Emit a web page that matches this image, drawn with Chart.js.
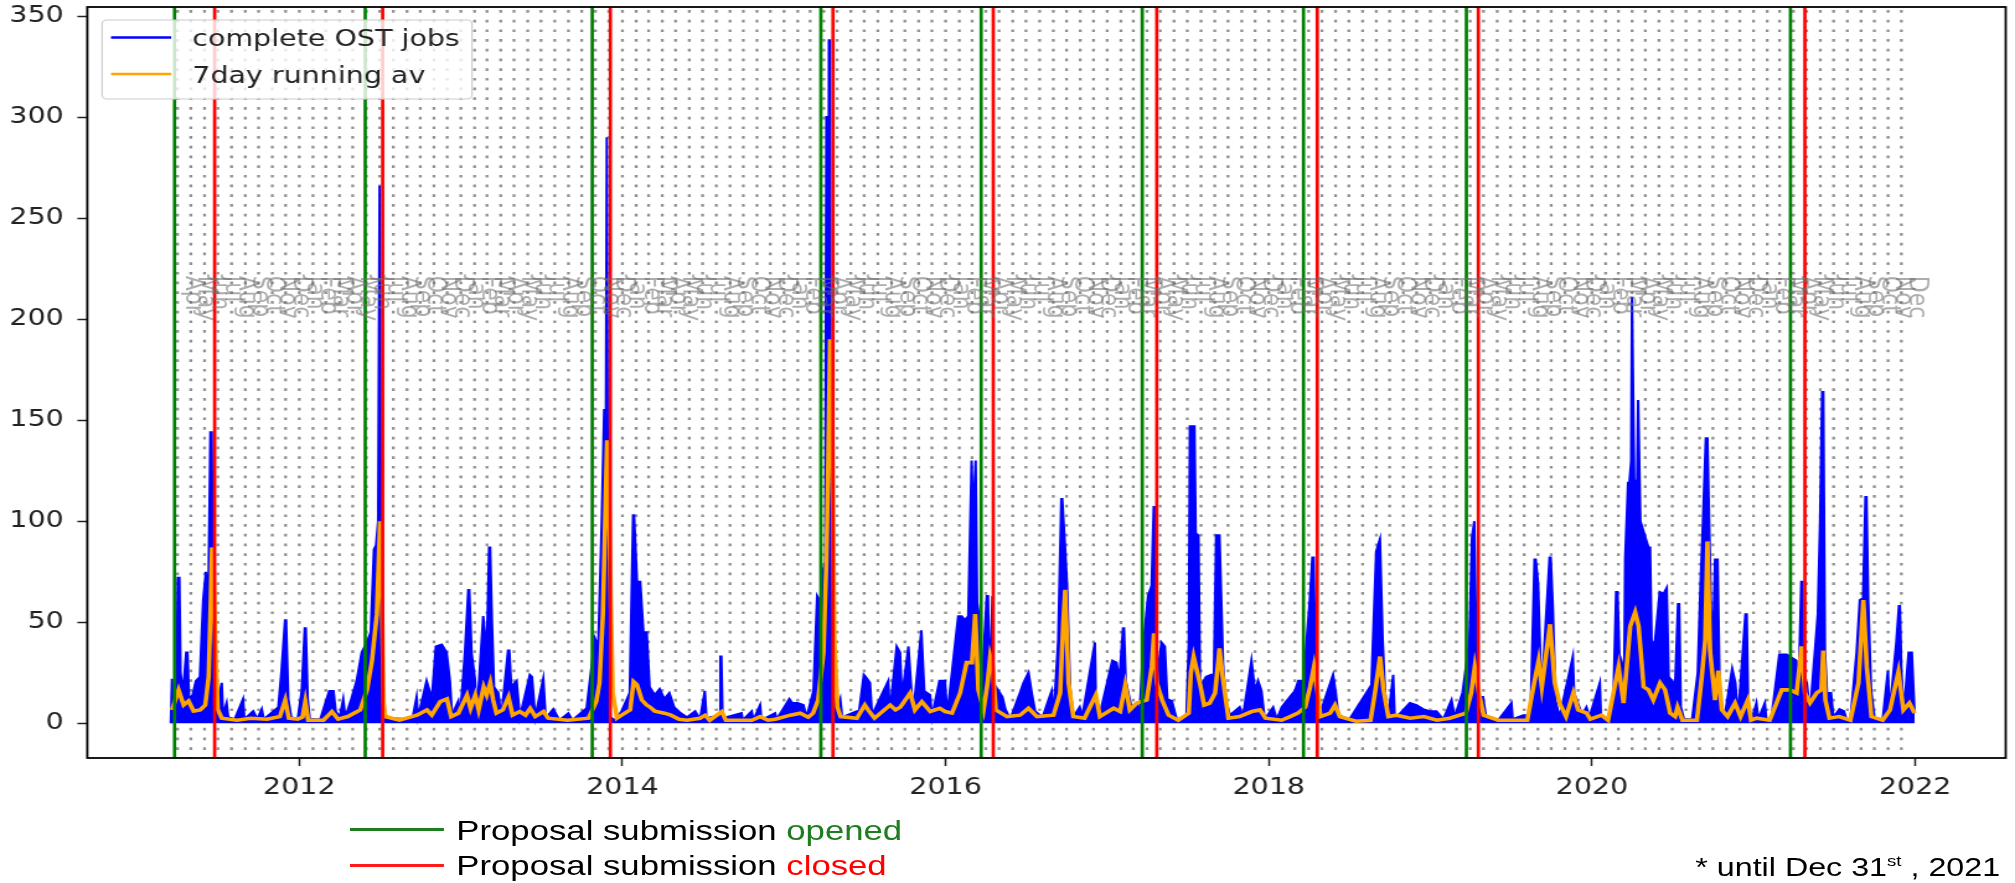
<!DOCTYPE html>
<html>
<head>
<meta charset="utf-8">
<script src="https://cdn.jsdelivr.net/npm/chart.js@4.4.1/dist/chart.umd.min.js"></script>
<style>
  html, body { margin: 0; padding: 0; background: #fff; }
  body { width: 2015px; height: 883px; overflow: hidden; }
  /* the original figure was stretched sideways, so the whole page is too */
  #wrap { position: relative; width: 1625px; height: 883px; transform: scaleX(1.24); transform-origin: 0 0; }
  #chart { position: absolute; left: 0; top: 0; }
  .key { position: absolute; left: 282px; width: 76px; height: 3px; }
  .keytext, .foot { position: absolute; font-family: "Liberation Sans", Arial, sans-serif; font-size: 28px; line-height: 28px; color: #000; white-space: nowrap; }
  .foot { font-size: 26px; }
  .sup { font-size: 15px; position: relative; top: -10px; }
</style>
</head>
<body>
<div id="wrap">
  <canvas id="chart" width="1625" height="883"></canvas>
  <div class="key" style="top:828px; background:#1e7d1e"></div>
  <div class="keytext" style="left:368px; top:817px">Proposal submission <span style="color:#1e7d1e">opened</span></div>
  <div class="key" style="top:864px; background:#ff1a1a"></div>
  <div class="keytext" style="left:368px; top:852px">Proposal submission <span style="color:#ff0000">closed</span></div>
  <div class="foot" style="right:12px; top:853px">* until Dec 31<span class="sup">st</span> , 2021</div>
</div>
<script>
// Proposal cycles (decimal years)
const openedAt = [2011.228, 2012.408, 2013.813, 2015.228, 2016.220, 2017.217, 2018.215, 2019.223, 2021.229];
const closedAt = [2011.476, 2012.516, 2013.925, 2015.303, 2016.295, 2017.307, 2018.300, 2019.297, 2021.318];

const yearTicks = [2012, 2014, 2016, 2018, 2020, 2022];
const countTicks = [0, 50, 100, 150, 200, 250, 300, 350];
const monthNames = ['Jan', 'Feb', 'Mar', 'Apr', 'May', 'Jun', 'Jul', 'Aug', 'Sep', 'Oct', 'Nov', 'Dec'];
const firstMonth = [2011, 3];   // Apr 2011
const lastMonth = [2021, 11];   // Dec 2021
const labelLevel = 221.5;       // where the month names start

// complete OST jobs per day (peaks), [year, jobs]
const jobs2011 = [[2011.205,0],[2011.212,22],[2011.222,10],[2011.240,12],[2011.248,72],[2011.258,72],[2011.265,25],[2011.280,15],[2011.300,35],[2011.308,35],[2011.318,12],[2011.340,14],[2011.360,21],[2011.385,23],[2011.405,61],[2011.422,75],[2011.437,61],[2011.450,144],[2011.458,144],[2011.466,60],[2011.480,21],[2011.500,12],[2011.520,20],[2011.528,4],[2011.550,10],[2011.560,3],[2011.600,2],[2011.652,12],[2011.660,2],[2011.715,6],[2011.740,2],[2011.768,7],[2011.780,2],[2011.870,8],[2011.890,26],[2011.912,51],[2011.918,51],[2011.932,12],[2011.950,3],[2011.990,2]];
const jobs2012 = [[2012.015,16],[2012.034,47],[2012.040,47],[2012.052,12],[2012.065,2],[2012.130,2],[2012.185,16],[2012.212,16],[2012.225,6],[2012.250,3],[2012.272,12],[2012.285,3],[2012.322,12],[2012.355,21],[2012.386,35],[2012.418,40],[2012.442,45],[2012.462,86],[2012.475,88],[2012.488,100],[2012.497,266],[2012.503,266],[2012.508,40],[2012.516,5],[2012.560,2.5],[2012.700,2],[2012.726,13],[2012.735,3],[2012.788,21],[2012.820,12],[2012.845,38],[2012.882,39],[2012.912,35],[2012.932,21],[2012.945,4],[2012.984,11],[2012.995,3]];
const jobs2013 = [[2013.025,35],[2013.046,66],[2013.052,66],[2013.066,35],[2013.087,22],[2013.100,5],[2013.138,53],[2013.160,35],[2013.175,87],[2013.181,87],[2013.192,51],[2013.205,18],[2013.232,15],[2013.250,3],[2013.292,36],[2013.300,36],[2013.312,18],[2013.345,21],[2013.365,3],[2013.427,24],[2013.440,23],[2013.460,3],[2013.510,22],[2013.525,2.5],[2013.572,7],[2013.610,1.5],[2013.665,5],[2013.690,1.5],[2013.778,7.5],[2013.830,42],[2013.850,38],[2013.872,100],[2013.887,155],[2013.898,155],[2013.903,290],[2013.907,290],[2013.912,30],[2013.925,3],[2013.955,1.5],[2013.995,6]];
const jobs2014 = [[2014.045,15],[2014.066,103],[2014.072,103],[2014.090,70],[2014.110,70],[2014.130,45],[2014.150,45],[2014.168,18],[2014.200,14],[2014.230,17],[2014.260,12],[2014.290,15],[2014.320,8],[2014.360,5],[2014.400,3],[2014.450,6],[2014.480,2],[2014.510,16],[2014.520,2.5],[2014.600,4],[2014.606,33],[2014.612,33],[2014.620,2.5],[2014.737,5],[2014.745,1.5],[2014.800,6],[2014.810,1.5],[2014.852,9],[2014.860,1.5],[2014.945,5],[2014.955,2]];
const jobs2015 = [[2015.033,12],[2015.050,10],[2015.084,10],[2015.120,9],[2015.140,3],[2015.182,16],[2015.205,63],[2015.225,60],[2015.243,76],[2015.255,80],[2015.262,300],[2015.268,300],[2015.274,120],[2015.278,338],[2015.284,338],[2015.290,60],[2015.300,20],[2015.320,5],[2015.348,12],[2015.360,3],[2015.450,6],[2015.460,3],[2015.494,24],[2015.505,23],[2015.532,20],[2015.545,4],[2015.645,21],[2015.655,5],[2015.697,38],[2015.718,35],[2015.730,13],[2015.770,38],[2015.785,20],[2015.800,5],[2015.850,46],[2015.857,46],[2015.868,16],[2015.904,14],[2015.915,3],[2015.962,21],[2015.996,21]];
const jobs2016 = [[2016.010,4],[2016.078,53],[2016.100,53],[2016.120,51],[2016.140,53],[2016.161,130],[2016.170,100],[2016.186,130],[2016.195,60],[2016.205,54],[2016.225,20],[2016.255,63],[2016.262,63],[2016.272,15],[2016.290,63],[2016.296,20],[2016.352,13],[2016.370,7],[2016.400,2],[2016.460,15],[2016.482,20],[2016.513,25],[2016.533,15],[2016.554,6],[2016.600,3],[2016.656,16],[2016.668,3],[2016.697,41],[2016.716,111],[2016.722,111],[2016.740,86],[2016.752,68],[2016.770,18],[2016.790,3],[2016.830,8],[2016.845,3],[2016.924,40],[2016.930,12],[2016.950,3]];
const jobs2017 = [[2017.032,31],[2017.058,30],[2017.075,21],[2017.098,47],[2017.104,47],[2017.115,21],[2017.150,8],[2017.182,10],[2017.200,4],[2017.223,38],[2017.253,63],[2017.275,68],[2017.288,107],[2017.294,107],[2017.305,20],[2017.336,40],[2017.357,38],[2017.372,12],[2017.400,11],[2017.430,2],[2017.490,3],[2017.505,40],[2017.512,147],[2017.540,147],[2017.548,94],[2017.565,93],[2017.575,18],[2017.612,23],[2017.645,24],[2017.660,20],[2017.674,93],[2017.695,93],[2017.718,28],[2017.735,11],[2017.760,4],[2017.820,8],[2017.840,3],[2017.893,31],[2017.915,16],[2017.934,21],[2017.955,16],[2017.975,2]];
const jobs2018 = [[2018.027,8],[2018.050,2],[2018.080,8],[2018.130,13],[2018.162,16],[2018.183,21],[2018.215,21],[2018.254,61],[2018.270,82],[2018.278,82],[2018.290,20],[2018.310,3],[2018.398,24],[2018.415,15],[2018.430,4],[2018.500,2],[2018.635,19],[2018.665,85],[2018.688,91],[2018.705,41],[2018.720,15],[2018.740,3],[2018.770,24],[2018.780,2],[2018.873,10],[2018.915,9],[2018.955,7],[2018.995,6]];
const jobs2019 = [[2019.038,6],[2019.080,2],[2019.131,11.5],[2019.150,3],[2019.199,15],[2019.242,41],[2019.258,92],[2019.272,100],[2019.280,60],[2019.295,13],[2019.326,13],[2019.345,3],[2019.420,1.5],[2019.502,10],[2019.510,2],[2019.575,4],[2019.620,4],[2019.645,81],[2019.652,81],[2019.667,69],[2019.688,13],[2019.715,51],[2019.738,82],[2019.745,82],[2019.758,58],[2019.775,11],[2019.800,3],[2019.882,33],[2019.890,15],[2019.940,4],[2019.966,8],[2019.985,3]];
const jobs2020 = [[2020.049,20],[2020.056,3],[2020.100,2],[2020.121,10],[2020.130,3],[2020.150,65],[2020.158,65],[2020.175,20],[2020.185,30],[2020.200,25],[2020.206,82],[2020.224,119],[2020.232,119],[2020.243,130],[2020.248,211],[2020.254,211],[2020.262,120],[2020.280,120],[2020.286,160],[2020.293,160],[2020.300,100],[2020.350,87],[2020.360,87],[2020.370,38],[2020.391,41],[2020.420,65],[2020.443,64],[2020.463,67],[2020.475,23],[2020.515,19],[2020.533,59],[2020.540,59],[2020.550,8],[2020.570,2],[2020.620,2],[2020.655,25],[2020.672,68],[2020.688,102],[2020.705,141],[2020.715,141],[2020.725,102],[2020.745,25],[2020.762,81],[2020.778,81],[2020.792,11.5],[2020.820,2.5],[2020.868,27],[2020.888,20],[2020.905,3],[2020.950,54],[2020.958,54],[2020.968,4],[2020.990,2]];
const jobs2021 = [[2021.018,10],[2021.030,2],[2021.070,10],[2021.080,2],[2021.110,2],[2021.160,34],[2021.205,34],[2021.225,33],[2021.265,31],[2021.280,20],[2021.296,70],[2021.302,70],[2021.312,20],[2021.330,20],[2021.350,5],[2021.398,54],[2021.412,99],[2021.425,164],[2021.432,164],[2021.442,36],[2021.455,15],[2021.480,15],[2021.495,3],[2021.532,7],[2021.560,6],[2021.575,2],[2021.600,2],[2021.638,35],[2021.658,61],[2021.678,62],[2021.693,112],[2021.699,112],[2021.710,61],[2021.728,16.5],[2021.750,2],[2021.800,2],[2021.832,26],[2021.842,5],[2021.884,40],[2021.900,58],[2021.906,58],[2021.916,25],[2021.930,5],[2021.960,35],[2021.980,35],[2021.997,5]];

// 7 day running average, [year, jobs]
const avg2011 = [[2011.212,6.6],[2011.253,16.5],[2011.284,9],[2011.315,11],[2011.346,6],[2011.387,6.6],[2011.418,9],[2011.439,23],[2011.452,60],[2011.460,87],[2011.470,75],[2011.480,40],[2011.495,7],[2011.520,2.5],[2011.614,1.5],[2011.700,2.5],[2011.800,2],[2011.880,3.3],[2011.913,11.5],[2011.935,2.5],[2011.990,2]];
const avg2012 = [[2012.020,3],[2012.037,10.7],[2012.055,1.5],[2012.150,1.5],[2012.202,5.8],[2012.240,2],[2012.300,3.3],[2012.377,6.6],[2012.419,16.5],[2012.450,31],[2012.480,54],[2012.500,100],[2012.512,60],[2012.522,10],[2012.532,3.3],[2012.620,1.5],[2012.728,4],[2012.790,6.6],[2012.820,4],[2012.872,10.7],[2012.914,12],[2012.940,3.3],[2012.985,5]];
const avg2013 = [[2013.038,14],[2013.060,7.4],[2013.089,14],[2013.110,6.6],[2013.141,18],[2013.160,14],[2013.182,20],[2013.200,11.5],[2013.220,5],[2013.260,6.6],[2013.295,13],[2013.320,4],[2013.365,5.8],[2013.400,4],[2013.429,7.4],[2013.460,3.3],[2013.512,5.8],[2013.540,2.5],[2013.660,1.5],[2013.790,2.5],[2013.838,10.7],[2013.858,20],[2013.879,54],[2013.893,100],[2013.905,140],[2013.915,120],[2013.928,60],[2013.940,15],[2013.966,2.5],[2013.995,4]];
const avg2014 = [[2014.048,6.6],[2014.069,20.6],[2014.090,19],[2014.120,11.5],[2014.150,9],[2014.170,8],[2014.200,6],[2014.260,5],[2014.300,4],[2014.350,2],[2014.400,1.5],[2014.480,2.5],[2014.512,4],[2014.540,1.5],[2014.615,5.8],[2014.640,1.5],[2014.800,1.5],[2014.853,3.3],[2014.900,1.5],[2014.946,2]];
const avg2015 = [[2015.039,4],[2015.100,5],[2015.150,3],[2015.180,5],[2015.211,11.5],[2015.244,35],[2015.262,80],[2015.272,120],[2015.285,190],[2015.298,150],[2015.312,40],[2015.330,8],[2015.350,3.3],[2015.451,2.5],[2015.500,9],[2015.520,6.6],[2015.560,2.5],[2015.657,9],[2015.690,6.6],[2015.720,8],[2015.781,15],[2015.810,6.6],[2015.853,10.7],[2015.905,5.8],[2015.964,7.4],[2015.997,5.8]];
const avg2016 = [[2016.040,5],[2016.090,15],[2016.130,30],[2016.163,30],[2016.183,54],[2016.203,16.5],[2016.235,6.6],[2016.260,20],[2016.276,33],[2016.292,28],[2016.310,6.6],[2016.380,3.3],[2016.461,4],[2016.513,7.4],[2016.565,3.3],[2016.668,4],[2016.709,15],[2016.728,50],[2016.740,66],[2016.761,20],[2016.790,3.3],[2016.860,2.5],[2016.930,14],[2016.955,3.3]];
const avg2017 = [[2017.040,7.4],[2017.080,5.8],[2017.112,19],[2017.140,6.6],[2017.183,10],[2017.245,11.5],[2017.276,28],[2017.290,44.5],[2017.307,20],[2017.340,11.5],[2017.380,4],[2017.440,1.5],[2017.505,5],[2017.518,25],[2017.535,33],[2017.576,19],[2017.600,9],[2017.635,10],[2017.668,15],[2017.695,37],[2017.715,23],[2017.750,2.5],[2017.820,3.3],[2017.895,5.8],[2017.946,6.6],[2017.980,2.5]];
const avg2018 = [[2018.080,1.5],[2018.132,3.3],[2018.180,5],[2018.226,8],[2018.256,18],[2018.280,28],[2018.300,16.5],[2018.320,3.3],[2018.380,5],[2018.410,9],[2018.440,3.3],[2018.540,1],[2018.630,1.5],[2018.660,16.5],[2018.689,33],[2018.710,16.5],[2018.740,3.3],[2018.790,4],[2018.875,2.5],[2018.960,3.3]];
const avg2019 = [[2019.040,1.5],[2019.120,2.5],[2019.220,5],[2019.253,15],[2019.275,28],[2019.300,15],[2019.330,4],[2019.420,1.5],[2019.600,1.5],[2019.638,18],[2019.670,31],[2019.690,18],[2019.741,49],[2019.770,20],[2019.800,10],[2019.840,3.3],[2019.885,15],[2019.915,6.6],[2019.968,5],[2019.990,2]];
const avg2020 = [[2020.060,4],[2020.100,1.5],[2020.165,28],[2020.196,10],[2020.237,48],[2020.268,55],[2020.289,48],[2020.320,18],[2020.350,16.5],[2020.380,11.5],[2020.422,20],[2020.453,16.5],[2020.484,5],[2020.515,3.3],[2020.530,8],[2020.560,1.5],[2020.650,1.5],[2020.680,23],[2020.701,41],[2020.715,90],[2020.731,36],[2020.762,11.5],[2020.783,26],[2020.804,6.6],[2020.840,3.3],[2020.886,10],[2020.920,3.3],[2020.965,11.5],[2020.985,1.5]];
const avg2021 = [[2021.020,2.5],[2021.100,1.5],[2021.175,16.5],[2021.226,16.5],[2021.267,15],[2021.298,38],[2021.319,15],[2021.350,10],[2021.391,15],[2021.420,16.5],[2021.432,36],[2021.445,11.5],[2021.470,2.5],[2021.530,3.3],[2021.600,1.5],[2021.650,20],[2021.680,61],[2021.701,28],[2021.730,3.3],[2021.800,1.5],[2021.845,6.6],[2021.897,25.5],[2021.928,6.6],[2021.965,10],[2021.997,5]];

function toPoints(...years) {
  return years.flat().map(p => ({ x: p[0], y: p[1] }));
}

function yearFraction(y, m, d) {
  const start = Date.UTC(y, 0, 1);
  const end = Date.UTC(y + 1, 0, 1);
  return y + (Date.UTC(y, m, d) - start) / (end - start);
}

// one entry per month between firstMonth and lastMonth
const months = [];
for (let y = firstMonth[0], m = firstMonth[1]; y < lastMonth[0] || (y === lastMonth[0] && m <= lastMonth[1]);) {
  months.push({ start: yearFraction(y, m, 1), mid: yearFraction(y, m, 15), name: monthNames[m] });
  m++;
  if (m > 11) { m = 0; y++; }
}

const tickFont = { family: 'DejaVu Sans', size: 23 };

// dotted monthly grid, under the data
const monthGrid = {
  id: 'monthGrid',
  beforeDatasetsDraw(chart) {
    const { ctx, chartArea: a, scales: { x } } = chart;
    ctx.save();
    ctx.strokeStyle = 'rgba(125,125,125,0.85)';
    ctx.lineWidth = 2.3;
    ctx.setLineDash([2.7, 7]);
    months.forEach(mo => {
      const px = x.getPixelForValue(mo.start);
      ctx.beginPath();
      ctx.moveTo(px, a.top + 3);
      ctx.lineTo(px, a.bottom);
      ctx.stroke();
    });
    ctx.restore();
  }
};

// proposal lines, month names, frame and legend
const overlays = {
  id: 'overlays',
  afterDatasetsDraw(chart) {
    const { ctx, chartArea: a, scales: { x, y } } = chart;
    ctx.save();
    ctx.beginPath();
    ctx.rect(a.left, a.top, a.width, a.height);
    ctx.clip();
    ctx.lineWidth = 2.7;
    [[openedAt, '#008000'], [closedAt, '#ff0000']].forEach(([list, color]) => {
      ctx.strokeStyle = color;
      list.forEach(v => {
        const px = x.getPixelForValue(v);
        ctx.beginPath();
        ctx.moveTo(px, a.top);
        ctx.lineTo(px, a.bottom);
        ctx.stroke();
      });
    });
    ctx.font = '22px "DejaVu Sans"';
    ctx.fillStyle = 'rgba(105,105,105,0.55)';
    ctx.textBaseline = 'alphabetic';
    const top = y.getPixelForValue(labelLevel);
    months.forEach(mo => {
      ctx.save();
      ctx.translate(x.getPixelForValue(mo.mid) + 1.5, top);
      ctx.rotate(Math.PI / 2);
      ctx.fillText(mo.name, 0, 0);
      ctx.restore();
    });
    ctx.restore();
  },
  afterDraw(chart) {
    const { ctx, chartArea: a } = chart;
    ctx.save();
    ctx.strokeStyle = '#000';
    ctx.lineWidth = 1.8;
    ctx.strokeRect(a.left, a.top, a.width, a.height);

    // legend box
    ctx.beginPath();
    ctx.roundRect(82.3, 20, 298.3, 79, 4);
    ctx.fillStyle = 'rgba(255,255,255,0.8)';
    ctx.fill();
    ctx.strokeStyle = '#cccccc';
    ctx.lineWidth = 1.2;
    ctx.stroke();
    const items = [['complete OST jobs', '#0000ff', 37.5, 46], ['7day running av', '#ffa500', 74, 83]];
    ctx.font = '23px "DejaVu Sans"';
    ctx.textBaseline = 'alphabetic';
    items.forEach(([text, color, ly, ty]) => {
      ctx.strokeStyle = color;
      ctx.lineWidth = 2.5;
      ctx.beginPath();
      ctx.moveTo(89.5, ly);
      ctx.lineTo(138, ly);
      ctx.stroke();
      ctx.fillStyle = '#222';
      ctx.fillText(text, 155, ty);
    });
    ctx.restore();
  }
};

new Chart(document.getElementById('chart'), {
  type: 'line',
  data: {
    datasets: [
      {
        label: 'complete OST jobs',
        data: toPoints(jobs2011, jobs2012, jobs2013, jobs2014, jobs2015, jobs2016, jobs2017, jobs2018, jobs2019, jobs2020, jobs2021),
        borderColor: '#0000ff',
        backgroundColor: '#0000ff',
        borderWidth: 2,
        pointRadius: 0,
        fill: 'origin',
        order: 2
      },
      {
        label: '7day running av',
        data: toPoints(avg2011, avg2012, avg2013, avg2014, avg2015, avg2016, avg2017, avg2018, avg2019, avg2020, avg2021),
        borderColor: '#ffa500',
        borderWidth: 3.6,
        pointRadius: 0,
        fill: false,
        order: 1
      }
    ]
  },
  options: {
    responsive: false,
    animation: false,
    devicePixelRatio: 1,
    layout: { padding: { top: 7, right: 7.5, left: 0, bottom: 0 } },
    plugins: { legend: { display: false }, tooltip: { enabled: false } },
    scales: {
      x: {
        type: 'linear',
        min: 2010.688,
        max: 2022.561,
        afterBuildTicks: s => { s.ticks = yearTicks.map(v => ({ value: v })); },
        afterFit: s => { s.height = 125; s.paddingLeft = 0; s.paddingRight = 0; },
        ticks: { font: tickFont, color: '#222', padding: 8, maxRotation: 0, autoSkip: false, callback: v => String(v) },
        grid: { drawOnChartArea: false, drawTicks: true, tickLength: 8, tickColor: '#222', tickWidth: 1.5 },
        border: { display: false }
      },
      y: {
        min: -17.2,
        max: 354.5,
        afterBuildTicks: s => { s.ticks = countTicks.map(v => ({ value: v })); },
        afterFit: s => { s.width = 70.4; s.paddingTop = 0; s.paddingBottom = 0; },
        ticks: { font: tickFont, color: '#222', padding: 11, autoSkip: false, callback: v => String(v) },
        grid: { drawOnChartArea: false, drawTicks: true, tickLength: 8, tickColor: '#222', tickWidth: 1.5 },
        border: { display: false }
      }
    }
  },
  plugins: [monthGrid, overlays]
});
</script>
</body>
</html>
